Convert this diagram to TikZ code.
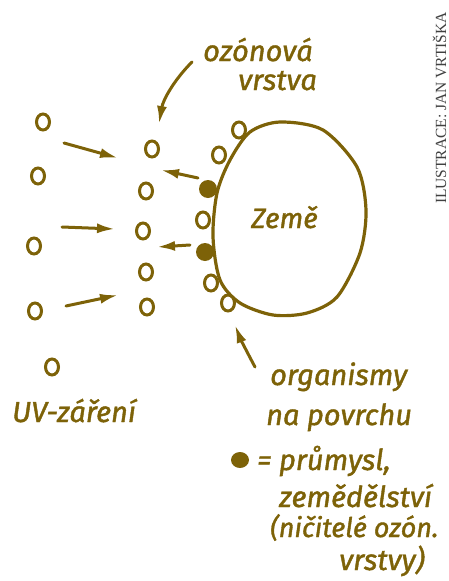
\documentclass[tikz,border=0pt]{standalone}
\usepackage{fontspec}
\usepackage{tikz}
\usetikzlibrary{arrows.meta}
\usetikzlibrary{positioning}
\usetikzlibrary{shapes.geometric}
\newfontfamily\handfont{Fira Sans}[ItalicFeatures = {FakeBold = 1.4}]
\newfontfamily\creditfont{Liberation Serif}
\definecolor{inkbrown}{RGB}{125,98,8}
\tikzset{ring/.style = {draw, ellipse, fill = white, line width = 3,
                        minimum width = 13, minimum height = 16, inner sep = 0}}
\tikzset{blob/.style = {fill, circle, inner sep = 0, minimum size = 18}}
\tikzset{hand/.style = {anchor = base west, inner sep = 0,
                        font = \handfont\itshape\fontsize{29}{31}\selectfont}}
\tikzset{uvarrow/.style = {line width = 3, -{Latex[length = 18, width = 10]}}}
\tikzset{credit/.style = {text = black!75, inner sep = 0,
                          font = \creditfont\fontsize{15.5}{16}\selectfont}}

\begin{document}
\begin{tikzpicture}[x=1pt, y=-1pt, inkbrown, line cap=round]
    \useasboundingbox (0, 0) rectangle (448, 581);

    \draw [line width = 3.2] plot [smooth cycle] coordinates {(250, 132) (280, 122)
      (323, 130) (357, 167) (366, 210) (360, 253) (337, 297) (307, 313) (273, 315)
      (240, 303) (220, 280) (213, 237) (217, 193) (230, 160)};

    \node [ring] (uv1) at (43, 122) {};
    \node [ring] (uv2) at (38, 176) {};
    \node [ring] (uv3) at (34, 246) {};
    \node [ring] (uv4) at (35, 311) {};
    \node [ring] (uv5) at (52, 367) {};

    \node [ring] (oz1) at (152, 149) {};
    \node [ring] (oz2) at (146, 191) {};
    \node [ring] (oz3) at (143, 231) {};
    \node [ring] (oz4) at (146, 272) {};
    \node [ring] (oz5) at (147, 307) {};

    \node [ring] (life1) at (239, 130) {};
    \node [ring] (life2) at (219, 155) {};
    \node [blob] (ind1) at (208, 189) {};
    \node [ring] (life3) at (203, 220) {};
    \node [blob] (ind2) at (205, 252) {};
    \node [ring] (life4) at (211, 283) {};
    \node [ring] (life5) at (228, 303) {};

    \coordinate (uvA1) at (64, 143);
    \coordinate (ozA1) at (118, 158);
    \coordinate (uvA2) at (62, 227);
    \coordinate (ozA2) at (115, 229);
    \coordinate (uvA3) at (66, 306);
    \coordinate (ozA3) at (118, 295);
    \coordinate (indA1) at (198, 178);
    \coordinate (ozB1) at (161, 170);
    \coordinate (indA2) at (190, 245);
    \coordinate (ozB2) at (157, 247);
    \draw [uvarrow] (uvA1) -- (ozA1);
    \draw [uvarrow] (uvA2) -- (ozA2);
    \draw [uvarrow] (uvA3) -- (ozA3);
    \draw [uvarrow] (indA1) -- (ozB1);
    \draw [uvarrow] (indA2) -- (ozB2);

    \node [hand] (ozone1) at (203, 61) {ozónová};
    \node [hand] (ozone2) at (238, 90) {vrstva};
    \coordinate (ozTail) at (192, 62);
    \coordinate (ozTip) at (159, 124);
    \draw [uvarrow] (ozTail) .. controls (174, 80) and (163, 100) .. (ozTip);

    \node [hand, font = \handfont\itshape\fontsize{28}{30}\selectfont] (earth) at (251, 228) {Země};

    \node [hand] (org1) at (270, 385) {organismy};
    \node [hand] (org2) at (266, 425) {na povrchu};
    \coordinate (orgTail) at (255, 367);
    \coordinate (orgTip) at (235, 325);
    \draw [uvarrow] (orgTail) .. controls (247, 352) and (240, 338) .. (orgTip);

    \node [hand] (uvlabel) at (12, 422) {UV-záření};

    \node [blob, ellipse, minimum width = 18, minimum height = 16] (key) at (240, 460) {};
    \node [hand] (legend1) at (257, 470) {= průmysl,};
    \node [hand] (legend2) at (279, 507) {zemědělství};
    \node [hand, font = \handfont\itshape\fontsize{27}{29}\selectfont] (legend3) at (270, 537) {(ničitelé ozón.};
    \node [hand] (legend4) at (339, 570) {vrstvy)};

    \node [credit, rotate = 90, anchor = base] (author) at (446, 108) {ILUSTRACE: JAN VRTIŠKA};
  \end{tikzpicture}
\end{document}
